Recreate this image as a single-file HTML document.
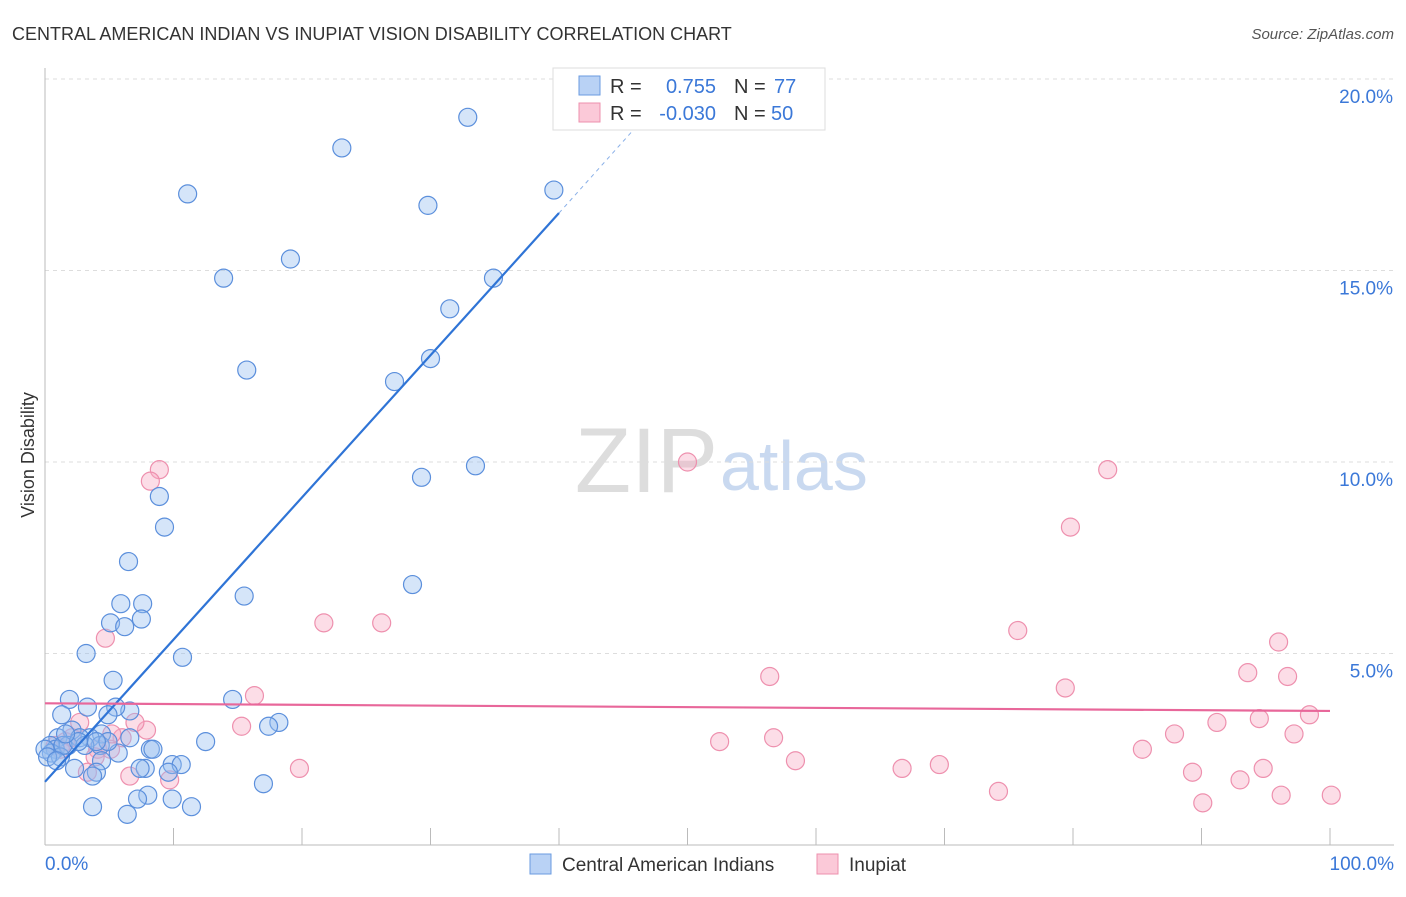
<!DOCTYPE html>
<html><head><meta charset="utf-8"><style>
body{margin:0;background:#fff;font-family:"Liberation Sans",sans-serif}
svg text{font-family:"Liberation Sans",sans-serif}
</style></head><body>
<svg id="chart" width="1406" height="892">
<text x="12" y="40" font-size="18" fill="#333">CENTRAL AMERICAN INDIAN VS INUPIAT VISION DISABILITY CORRELATION CHART</text>
<text x="1394" y="39" font-size="15" fill="#555" font-style="italic" text-anchor="end">Source: ZipAtlas.com</text>
<text x="718" y="492" font-size="92" fill="#ddd" text-anchor="end" font-family="Liberation Serif">ZIP</text>
<text x="720" y="490" font-size="70" fill="#c9d9f0">atlas</text>
<g id="grid"></g>
<g id="axes"></g>
<g id="pts"></g>
<g id="trend"></g>
<text transform="translate(34,455) rotate(-90)" font-size="18" fill="#333" text-anchor="middle">Vision Disability</text>
<g>
<rect x="553" y="68" width="272" height="62" fill="#fff" stroke="#ddd"/>
<rect x="579" y="76" width="21" height="19" fill="#b9d2f5" stroke="#6a9be0"/>
<rect x="579" y="103" width="21" height="19" fill="#fbc9d8" stroke="#ee90ae"/>
<text x="610" y="93" font-size="20" fill="#333">R = </text><text x="716" y="93" font-size="20" fill="#3b78d8" text-anchor="end">0.755</text>
<text x="734" y="93" font-size="20" fill="#333">N = </text><text x="774" y="93" font-size="20" fill="#3b78d8">77</text>
<text x="610" y="120" font-size="20" fill="#333">R = </text><text x="716" y="120" font-size="20" fill="#3b78d8" text-anchor="end">-0.030</text>
<text x="734" y="120" font-size="20" fill="#333">N = </text><text x="771" y="120" font-size="20" fill="#3b78d8">50</text>
</g>
<g>
<rect x="530" y="854" width="21" height="20" fill="#b9d2f5" stroke="#6a9be0"/>
<text x="562" y="871" font-size="19" fill="#333">Central American Indians</text>
<rect x="817" y="854" width="21" height="20" fill="#fbc9d8" stroke="#ee90ae"/>
<text x="849" y="871" font-size="19" fill="#333">Inupiat</text>
</g>
</svg>
<script>
const yTicks=[5,10,15,20];
const yTickLabels=["5.0%","10.0%","15.0%","20.0%"];
const xTickLabels=["0.0%","100.0%"];
const blueX=[32.9,23.1,11.1,39.6,29.8,19.1,13.9,34.9,31.5,30.0,15.7,27.2,8.9,33.5,29.3,9.3,6.5,28.6,15.5,5.9,7.6,5.1,7.5,6.2,3.2,10.7,5.3,1.9,14.6,3.3,6.6,5.5,1.3,4.9,18.2,17.4,2.1,4.4,1.0,3.5,2.7,6.6,12.5,0.4,0.8,1.8,4.3,8.2,8.4,0.5,1.2,5.7,9.9,10.6,4.4,2.3,7.8,7.4,9.6,4.0,3.7,17.0,8.0,7.2,9.9,3.7,11.4,6.4,0,0.2,1.4,3.1,2.6,4.9,4.0,0.9,1.6];
const blueY=[19.0,18.2,17.0,17.1,16.7,15.3,14.8,14.8,14.0,12.7,12.4,12.1,9.1,9.9,9.6,8.3,7.4,6.8,6.5,6.3,6.3,5.8,5.9,5.7,5.0,4.9,4.3,3.8,3.8,3.6,3.5,3.6,3.4,3.4,3.2,3.1,3.0,2.9,2.8,2.8,2.8,2.8,2.7,2.6,2.5,2.6,2.6,2.5,2.5,2.4,2.3,2.4,2.1,2.1,2.2,2.0,2.0,2.0,1.9,1.9,1.8,1.6,1.3,1.2,1.2,1.0,1.0,0.8,2.5,2.3,2.6,2.6,2.7,2.7,2.7,2.2,2.9];
const pinkX=[8.9,8.2,50.0,82.7,79.8,4.7,21.7,26.2,75.7,96.0,93.6,96.7,56.4,79.4,16.3,98.4,2.7,7.9,15.3,91.2,94.5,97.2,6.0,52.5,56.7,87.9,85.4,4.1,5.1,0.8,1.6,58.4,19.8,3.9,69.6,66.7,89.3,94.8,6.6,9.7,93.0,3.3,74.2,96.2,100.1,90.1,2.1,1.2,7.0,5.2];
const pinkY=[9.8,9.5,10.0,9.8,8.3,5.4,5.8,5.8,5.6,5.3,4.5,4.4,4.4,4.1,3.9,3.4,3.2,3.0,3.1,3.2,3.3,2.9,2.8,2.7,2.8,2.9,2.5,2.5,2.5,2.6,2.7,2.2,2.0,2.3,2.1,2.0,1.9,2.0,1.8,1.7,1.7,1.9,1.4,1.3,1.3,1.1,2.8,2.5,3.2,2.9];
const blueTrend=[0,1.65,40,16.5];
const blueTrendDash=[40,16.5,48,19.5];
const pinkTrend=[0,3.7,100,3.5];
const X=v=>45+v*12.85, Y=v=>845-v*38.3;
const NS="http://www.w3.org/2000/svg";
function mk(parent,tag,attrs){const e=document.createElementNS(NS,tag);for(const k in attrs)e.setAttribute(k,attrs[k]);document.getElementById(parent).appendChild(e);return e;}
yTicks.forEach((t,i)=>{
 const l=mk('grid','line',{x1:45,x2:1394,y1:Y(t),y2:Y(t),stroke:'#ddd','stroke-dasharray':'4,4'});
 
 
 const tx=mk('grid','text',{x:1393,y:Y(t)+24,'font-size':19,fill:'#3b78d8','text-anchor':'end'});
 tx.textContent=yTickLabels[i];
 
 
});
const la=mk('axes','line',{x1:45,x2:45,y1:68,y2:845,stroke:'#bbb'});


const lb=mk('axes','line',{x1:45,x2:1394,y1:845,y2:845,stroke:'#bbb'});


for(let i=1;i<=10;i++){
 const t=mk('axes','line',{x1:X(i*10),x2:X(i*10),y1:828,y2:845,stroke:'#bbb'});
 
 
}
[[0,'start',45],[100,'end',1394]].forEach((d,i)=>{
 const t=mk('axes','text',{x:d[2],y:870,'font-size':19,fill:'#3b78d8','text-anchor':d[1]});
 t.textContent=xTickLabels[i];
 
 
});
pinkX.forEach((v,i)=>{
 const c=mk('pts','circle',{cx:X(v),cy:Y(pinkY[i]),r:9,fill:'rgba(247,170,195,0.4)',stroke:'#ee90ae','stroke-width':1.2});
 
 
});
blueX.forEach((v,i)=>{
 const c=mk('pts','circle',{cx:X(v),cy:Y(blueY[i]),r:9,fill:'rgba(150,190,240,0.4)',stroke:'#5b8fdc','stroke-width':1.2});
 
 
});
const bt=mk('trend','line',{x1:X(blueTrend[0]),y1:Y(blueTrend[1]),x2:X(blueTrend[2]),y2:Y(blueTrend[3]),stroke:'#2f74d6','stroke-width':2.2});


const bd=mk('trend','line',{x1:X(blueTrendDash[0]),y1:Y(blueTrendDash[1]),x2:X(blueTrendDash[2]),y2:Y(blueTrendDash[3]),stroke:'#8ab0e8','stroke-width':1,'stroke-dasharray':'4,4'});


const pt=mk('trend','line',{x1:X(pinkTrend[0]),y1:Y(pinkTrend[1]),x2:X(pinkTrend[2]),y2:Y(pinkTrend[3]),stroke:'#e8679a','stroke-width':2.2});


</script>
</body></html>
